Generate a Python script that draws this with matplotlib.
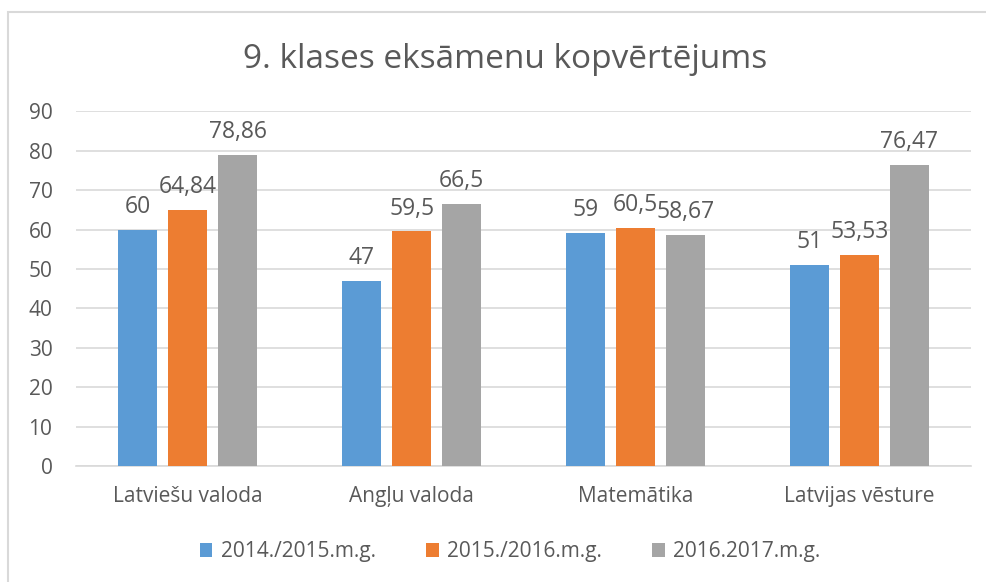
import matplotlib
matplotlib.use("Agg")
import matplotlib.pyplot as plt
import numpy as np
from matplotlib.patches import Rectangle

categories = ["Latviešu valoda", "Angļu valoda", "Matemātika", "Latvijas vēsture"]
series_names = ["2014./2015.m.g.", "2015./2016.m.g.", "2016.2017.m.g."]
vals_2015 = [60, 47, 59, 51]
vals_2016 = [64.84, 59.5, 60.5, 53.53]
vals_2017 = [78.86, 66.5, 58.67, 76.47]
yticks = [0, 10, 20, 30, 40, 50, 60, 70, 80, 90]

colors = ["#5B9BD5", "#ED7D31", "#A5A5A5"]
text_col = "#595959"

plt.rcParams["font.family"] = ["Open Sans", "DejaVu Sans"]

fig = plt.figure(figsize=(9.87, 5.82), dpi=100)
ax = fig.add_axes([0.077, 0.199, 0.907, 0.61])

# chart border (light gray frame, cropped on right/bottom)
fig.patches.append(Rectangle((8 / 987, -0.1), 1.2, 1 - 12 / 582 + 0.1,
                             transform=fig.transFigure, fill=False,
                             edgecolor="#D9D9D9", linewidth=1.5))

x = np.arange(len(categories))
width = 0.174
step = 0.2235


def fmt(v):
    s = f"{v:g}"
    return s.replace(".", ",")


for i, (vals, name) in enumerate(zip([vals_2015, vals_2016, vals_2017], series_names)):
    bars = ax.bar(x + (i - 1) * step, vals, width, color=colors[i], label=name, zorder=3)
    for b, v in zip(bars, vals):
        ax.text(b.get_x() + b.get_width() / 2, v + 4.3, fmt(v), ha="center", va="baseline",
                fontsize=16.5, color=text_col)

ax.set_xlim(-0.5, len(categories) - 0.5)
ax.set_ylim(0, 90)
ax.set_yticks(yticks)
ax.set_xticks(x)
ax.set_xticklabels(categories)
ax.tick_params(axis="both", length=0, labelsize=15, colors=text_col)
ax.tick_params(axis="x", pad=14)
ax.tick_params(axis="y", pad=17)
ax.grid(axis="y", color="#D9D9D9", linewidth=1.2, zorder=0)
for s in ["left", "right", "top"]:
    ax.spines[s].set_visible(False)
ax.spines["bottom"].set_color("#D9D9D9")
ax.spines["bottom"].set_linewidth(1.2)

fig.text(0.512, 1 - 60 / 582, "9. klases eksāmenu kopvērtējums", ha="center", va="center",
         fontsize=24, color=text_col)

fig.legend(loc="center", bbox_to_anchor=(510 / 987, 1 - 552 / 582), ncol=3, frameon=False,
           fontsize=15, labelcolor=text_col, handlelength=0.62, handleheight=0.62,
           handletextpad=0.4, columnspacing=2.4)

fig.savefig("out.png", dpi=100)
